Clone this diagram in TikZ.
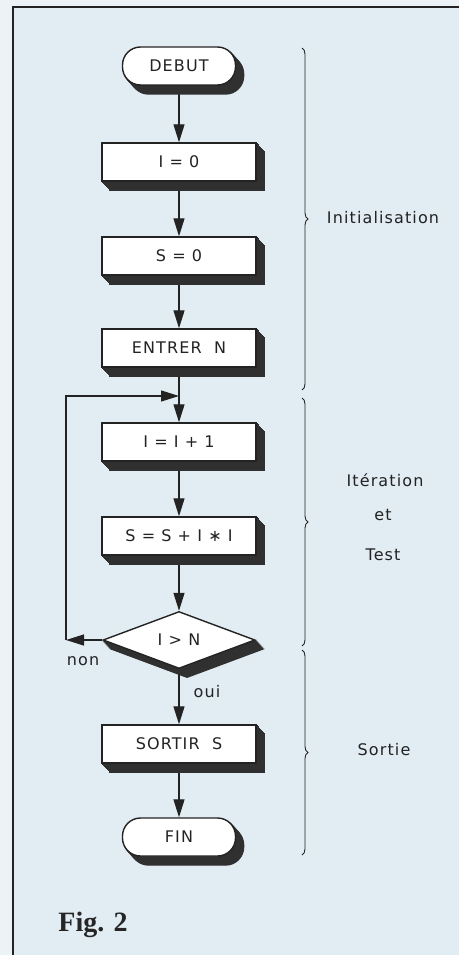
\documentclass[tikz,border=0pt]{standalone}
\usepackage{fontspec}
\setmainfont{Liberation Serif}
\setsansfont{DejaVu Sans}[LetterSpace=7]
\usetikzlibrary{arrows.meta,shapes.geometric,decorations.pathreplacing}
\definecolor{bgc}{RGB}{226,237,243}
\definecolor{outc}{RGB}{236,243,247}
\definecolor{shd}{RGB}{48,48,48}
\definecolor{ink}{RGB}{35,35,35}
\pgfdeclarelayer{bg}\pgfdeclarelayer{edges}\pgfsetlayers{bg,edges,main}
\begin{document}
\begin{tikzpicture}[x=1pt,y=-1pt,
  ext/.style={preaction={fill=shd,draw=shd,transform canvas={xshift=#1*0.9pt,yshift=-#1*1pt}}},
  extrude/.style={ext=9,ext=8,ext=7,ext=6,ext=5,ext=4,ext=3,ext=2,ext=1},
  box/.style={draw=ink, line width=1.4pt, fill=white, minimum width=154pt, minimum height=38pt,
    inner sep=0pt, font=\sffamily\fontsize{16}{18}\selectfont, text=ink, extrude},
  term/.style={box, rounded corners=18pt, minimum width=113pt},
  dec/.style={box, shape=diamond, minimum width=152pt, minimum height=57pt},
  ln/.style={draw=ink, line width=1.3pt},
  arr/.style={ln, -{Triangle[length=18pt,width=11pt]}},
  brc/.style={draw=ink, line width=0.9pt, decorate, decoration={brace, amplitude=6pt}},
  lbl/.style={font=\sffamily\fontsize{16}{18}\selectfont, text=ink, inner sep=0pt}
]
\useasboundingbox (0,0) rectangle (459,955);
\begin{pgfonlayer}{bg}
\fill[outc] (0,0) rectangle (459,955);
\fill[bgc] (13,7) rectangle (459,955);
\draw[ink, line width=1.6pt] (13,955) -- (13,7) -- (459,7);
\end{pgfonlayer}

% nodes
\node[term] (debut) at (179,66) {DEBUT};
\node[box] (i0) at (179,162) {I = 0};
\node[box] (s0) at (179,256) {S = 0};
\node[box] (entrer) at (179,348) {ENTRER\ \ N};
\node[box] (incr) at (179,442) {I = I + 1};
\node[box] (somme) at (179,536) {S = S + I ∗ I};
\node[dec] (test) at (179,640) {I > N};
\node[box] (sortir) at (179,744) {SORTIR\ \ S};
\node[term] (fin) at (179,837) {FIN};

\coordinate (c1) at (66,640);
\coordinate (c2) at (66,396);
\coordinate (j) at (179,396);

% connectors
\begin{pgfonlayer}{edges}
\draw[arr] (debut) -- (i0);
\draw[arr] (i0) -- (s0);
\draw[arr] (s0) -- (entrer);
\draw[arr] (entrer) -- (incr);
\draw[arr] (incr) -- (somme);
\draw[arr] (somme) -- (test);
\draw[arr] (test.west) -- (c1);
\draw[arr] (c1) -- (c2) -- (j);
\draw[arr] (test) -- (sortir);
\draw[arr] (sortir) -- (fin);
\end{pgfonlayer}

\node[lbl] (non) at (83,661) {non};
\node[lbl] (oui) at (207,692) {oui};

% braces
\coordinate (b1a) at (302,48);  \coordinate (b1b) at (302,390);
\coordinate (b2a) at (302,398); \coordinate (b2b) at (302,646);
\coordinate (b3a) at (302,650); \coordinate (b3b) at (302,855);
\draw[brc] (b1a) -- (b1b);
\draw[brc] (b2a) -- (b2b);
\draw[brc] (b3a) -- (b3b);

\node[lbl] (init) at (383,218) {Initialisation};
\node[lbl] (iter) at (385,480) {Itération};
\node[lbl] (et) at (383,515) {et};
\node[lbl] (tst) at (383,555) {Test};
\node[lbl] (sortie) at (384,750) {Sortie};

\node[font=\bfseries\fontsize{28}{30}\selectfont, text=black!85, inner sep=0pt] (fig) at (93,925) {Fig. 2};
\end{tikzpicture}
\end{document}
